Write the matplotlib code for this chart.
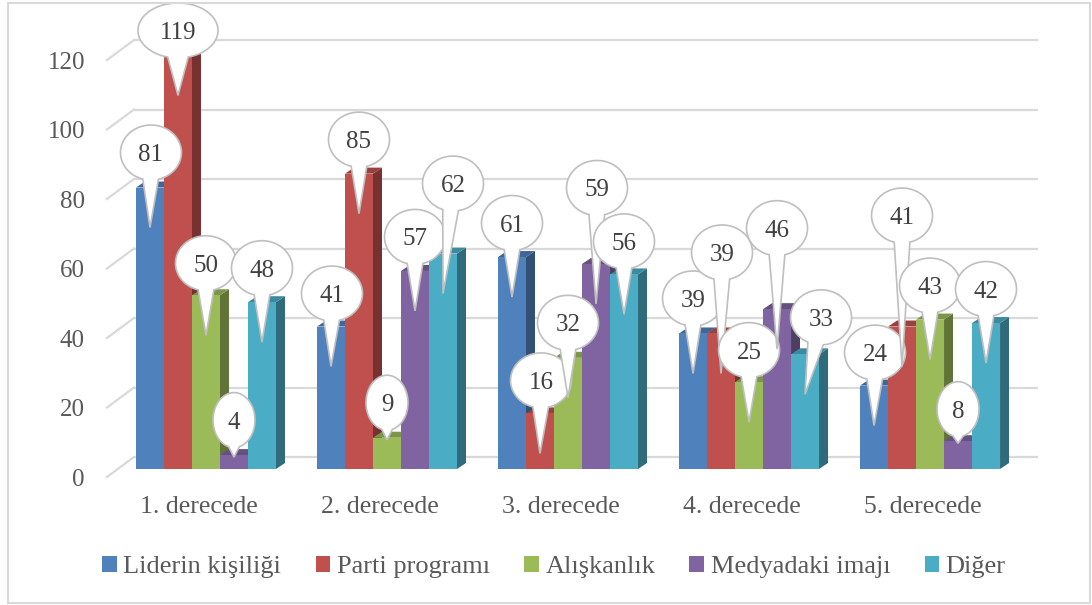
import numpy as np
import matplotlib
matplotlib.use('Agg')
import matplotlib.pyplot as plt
import matplotlib.transforms as mtransforms
from matplotlib.patches import Polygon, Rectangle, Patch

# data
categories = ['1. derecede', '2. derecede', '3. derecede', '4. derecede', '5. derecede']
series_names = ['Liderin kişiliği', 'Parti programı', 'Alışkanlık', 'Medyadaki imajı', 'Diğer']
liderin = [81, 41, 61, 39, 24]
parti = [119, 85, 16, 39, 41]
aliskanlik = [50, 9, 32, 25, 43]
medya = [4, 57, 59, 46, 8]
diger = [48, 62, 56, 33, 42]
y_ticks = [0, 20, 40, 60, 80, 100, 120]

series = [liderin, parti, aliskanlik, medya, diger]
colors = ['#4F81BD', '#C0504D', '#9BBB59', '#8064A2', '#4BACC6']

# callout bubble offsets (pixels, right / up) from the top of each bar
bubble_off = [
    [(1, 35), (1, 33), (0, 34), (0, 35), (1, 33)],
    [(0, 25), (0, 34), (1, 33), (1, 81), (0, 111)],
    [(0, 32), (0, 35), (0, 35), (0, 32), (0, 34)],
    [(0, 35), (0, 34), (1, 76), (0, 81), (0, 32)],
    [(0, 34), (10, 70), (0, 33), (16, 37), (0, 34)],
]

FONT = 'Liberation Serif'
TXT = '#595959'
GRID = '#D9D9D9'

W, H = 1092, 605
fig = plt.figure(figsize=(W / 100, H / 100), dpi=100)
ax = fig.add_axes([40 / W, (H - 530) / H, 1020 / W, 520 / H])
ax.set_xlim(-0.917, 4.718)
ax.set_ylim(-17.55, 132.09)
ax.axis('off')

bw = 0.1547          # bar width
ddx, ddy = 0.0497, 1.73   # bar depth offset
back_dx, back_dy = -0.398, 3.45
wall_x, wall_dy = -0.547, -2.3


def shade(c, f):
    r, g, b = matplotlib.colors.to_rgb(c)
    return (r * f, g * f, b * f)


# back wall gridlines + side wall diagonals
for v in y_ticks:
    ax.plot([back_dx, 4.597], [v + back_dy, v + back_dy], color=GRID, lw=1.6, zorder=1,
            solid_capstyle='butt')
    ax.plot([wall_x, back_dx], [v + wall_dy, v + back_dy], color=GRID, lw=1.6, zorder=1)
    ax.text(-0.6685, v + wall_dy, str(v), ha='right', va='center_baseline',
            fontsize=18, family=FONT, color=TXT)

# bars, left to right
z = 2
for i in range(len(categories)):
    for j, vals in enumerate(series):
        v = vals[i]
        x0 = i + (j - 2.5) * bw
        x1 = x0 + bw
        c = colors[j]
        ax.add_patch(Polygon([[x1, 0], [x1 + ddx, ddy], [x1 + ddx, v + ddy], [x1, v]],
                             closed=True, fc=shade(c, 0.62), ec='none', zorder=z))
        ax.add_patch(Polygon([[x0, v], [x0 + ddx, v + ddy], [x1 + ddx, v + ddy], [x1, v]],
                             closed=True, fc=shade(c, 0.8), ec='none', zorder=z + 0.1))
        ax.add_patch(Rectangle((x0, 0), bw, v, fc=c, ec='none', zorder=z + 0.2))
        z += 0.3

for i, cat in enumerate(categories):
    ax.text(i - 0.04, -10.9, cat, ha='center', va='center', fontsize=18.5,
            family=FONT, color=TXT)

# callout bubbles in pixel space
ident = mtransforms.IdentityTransform()
zb = 50
for i in range(len(categories)):
    for j, vals in enumerate(series):
        v = vals[i]
        xc = i + (j - 2) * bw
        tip_v = v - 11.5 if v >= 12 else v - 0.6
        px, py = ax.transData.transform((xc, v))
        tx, ty = ax.transData.transform((xc, tip_v))
        dx, dy = bubble_off[j][i]
        cx, cy = px + dx, py + dy
        label = str(v)
        a = (23 + 19 * len(label)) / 2
        b = 27.5
        t0 = np.arctan2((ty - cy) / b, (tx - cx) / a)
        d = 0.26
        t = np.linspace(t0 + d, t0 + 2 * np.pi - d, 140)
        pts = np.column_stack([cx + a * np.cos(t), cy + b * np.sin(t)])
        pts = np.vstack([pts, [tx, ty]])
        ax.add_patch(Polygon(pts, closed=True, fc='white', ec='#BFBFBF', lw=1.2,
                             transform=ident, zorder=zb, clip_on=False))
        ax.text(cx, cy, label, transform=ident, ha='center', va='center_baseline',
                fontsize=18, family=FONT, color='#404040', zorder=zb + 0.5)
        zb += 1

handles = [Patch(facecolor=c, edgecolor='none') for c in colors]
fig.legend(handles, series_names, loc='center', bbox_to_anchor=(554 / W, (H - 567) / H),
           ncol=5, frameon=False, prop={'family': FONT, 'size': 19},
           handlelength=0.55, handleheight=0.55, handletextpad=0.25,
           columnspacing=1.3, labelcolor=TXT)

fig.add_artist(Rectangle((8 / W, 2 / H), 1082 / W, 600 / H, transform=fig.transFigure,
                         fill=False, ec=GRID, lw=1.5))

fig.savefig('out.png', dpi=100)
